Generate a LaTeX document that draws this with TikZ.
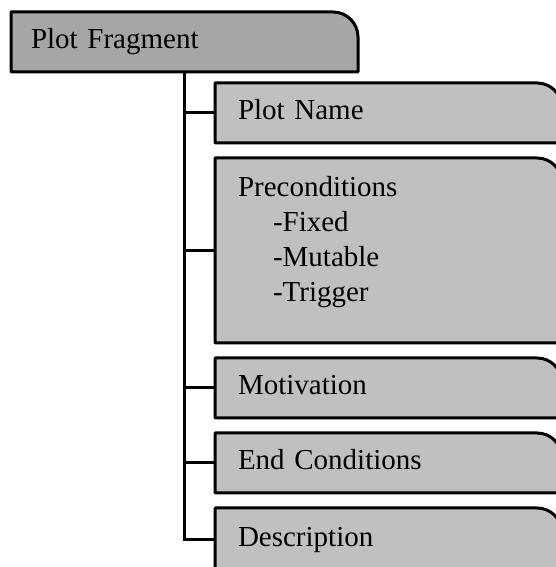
\documentclass[tikz,border=0pt]{standalone}
\usepackage{fontspec}
\setmainfont{Liberation Serif}
\usetikzlibrary{positioning,calc}
\pgfdeclarelayer{background}
\pgfsetlayers{background,main}

\definecolor{rootgray}{RGB}{166,166,166}
\definecolor{leafgray}{RGB}{192,192,192}

\tikzset{
    panel/.style={anchor=north west, minimum width=347pt, minimum height=60pt,
        text width=301pt, align=left, inner xsep=23pt, inner ysep=0pt, outer sep=0pt,
        text height=20pt, text depth=6pt, font=\fontsize{29}{35}\selectfont},
    rootpanel/.style={panel, inner xsep=20pt, text width=307pt},
    outline/.style={draw=black, line width=3pt, line join=round},
    link/.style={draw=black, line width=3pt}
}

% tab shaped box behind a node: only the top right corner is round
\newcommand{\tabshape}[2]{%
    \path[outline, fill=#2] (#1.south west) -- (#1.north west)
        -- ([xshift=-25pt]#1.north east) arc[start angle=90, end angle=0, radius=25pt]
        -- (#1.south east) -- cycle;}

\begin{document}
\begin{tikzpicture}
    \useasboundingbox (0pt,0pt) rectangle (556pt,567pt);

    \node[rootpanel] (fragment) at (11pt,555pt) {Plot Fragment};
    \node[panel, below right=11pt and 204pt of fragment.south west, anchor=north west] (name) {Plot Name};
    \node[panel, below=15pt of name.south west, anchor=north west, minimum height=185pt, text depth=127pt] (pre)
        {Preconditions\\ \hspace*{35pt}-Fixed\\ \hspace*{35pt}-Mutable\\ \hspace*{35pt}-Trigger};
    \node[panel, below=15pt of pre.south west, anchor=north west] (motive) {Motivation};
    \node[panel, below=15pt of motive.south west, anchor=north west] (endcond) {End Conditions};
    \node[panel, below=15pt of endcond.south west, anchor=north west, minimum height=64pt] (descr) {Description};

    \coordinate (spine) at ([xshift=173pt]fragment.south west);

    \begin{pgfonlayer}{background}
        \begin{scope}
            \clip (0pt,0pt) rectangle (556pt,567pt);
            % connectors
            \draw[link] (spine) |- (descr.west);
            \foreach \n in {name,pre,motive,endcond}
                \draw[link] (spine |- \n.west) -- (\n.west);
            % boxes
            \tabshape{fragment}{rootgray}
            \foreach \n in {name,pre,motive,endcond,descr}
                {\tabshape{\n}{leafgray}}
        \end{scope}
    \end{pgfonlayer}
\end{tikzpicture}
\end{document}
